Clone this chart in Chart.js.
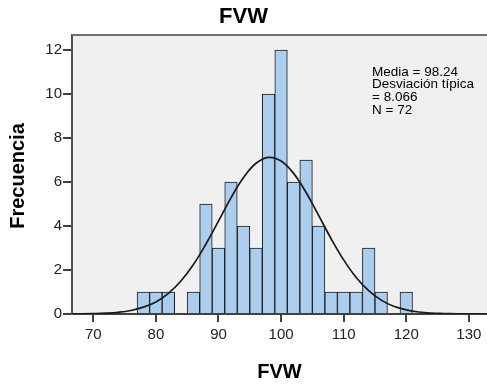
<!DOCTYPE html>
<html>
<head>
<meta charset="utf-8">
<script src="https://cdn.jsdelivr.net/npm/chart.js@4/dist/chart.umd.min.js"></script>
<style>
  html, body { margin: 0; padding: 0; background: #fff; }
  #wrap { position: relative; width: 487px; height: 389px; }
</style>
</head>
<body>
<div id="wrap"><canvas id="chart"></canvas></div>
<script>
// histogram FVW, bins of width 2 (centres)
var binCentres = [78, 80, 82, 84, 86, 88, 90, 92, 94, 96, 98, 100, 102, 104, 106, 108, 110, 112, 114, 116, 118, 120];
var counts     = [1, 1, 1, 0, 1, 5, 3, 6, 4, 3, 10, 12, 6, 7, 4, 1, 1, 1, 3, 1, 0, 1];
// normal curve
var curveX = [66, 68, 70, 72, 74, 76, 78, 80, 82, 84, 86, 88, 90, 92, 94, 96, 98, 100, 102, 104, 106, 108, 110, 112, 114, 116, 118, 120, 122, 124, 126, 128, 130, 132, 134];
var curveY = [0.002, 0.006, 0.016, 0.036, 0.078, 0.16, 0.31, 0.55, 0.94, 1.5, 2.25, 3.18, 4.22, 5.28, 6.2, 6.85, 7.12, 6.95, 6.39, 5.52, 4.48, 3.42, 2.46, 1.66, 1.06, 0.63, 0.35, 0.19, 0.09, 0.04, 0.02, 0.008, 0.003, 0.001, 0];
var xTicks = [70, 80, 90, 100, 110, 120, 130];
var yTicks = [0, 2, 4, 6, 8, 10, 12];
var statsLines = ["Media = 98.24", "Desviación típica", "= 8.066", "N = 72"];

var FONT = "'Liberation Sans', Arial, sans-serif";

var plotBg = {
  id: "plotBg",
  beforeDraw: function (chart) {
    var a = chart.chartArea, ctx = chart.ctx;
    ctx.save();
    ctx.fillStyle = "#f0f0f0";
    ctx.fillRect(a.left, a.top, a.right - a.left, a.bottom - a.top);
    ctx.restore();
  },
  afterDatasetsDraw: function (chart) {
    var a = chart.chartArea, ctx = chart.ctx;
    ctx.save();
    ctx.strokeStyle = "#707070";
    ctx.lineWidth = 2;
    ctx.beginPath();
    ctx.moveTo(a.left, a.top);
    ctx.lineTo(a.right, a.top);
    ctx.stroke();
    ctx.restore();
  },
  afterDraw: function (chart) {
    var ctx = chart.ctx;
    ctx.save();
    ctx.fillStyle = "#000";
    ctx.font = "13.5px " + FONT;
    ctx.textBaseline = "middle";
    var ys = [72, 84.5, 97.5, 110];
    statsLines.forEach(function (t, i) { ctx.fillText(t, 372, ys[i]); });
    // y axis title
    ctx.font = "bold 20px " + FONT;
    ctx.textAlign = "center";
    ctx.translate(18, 176);
    ctx.rotate(-Math.PI / 2);
    ctx.fillText("Frecuencia", 0, 0);
    ctx.restore();
  }
};

new Chart(document.getElementById("chart"), {
  data: {
    datasets: [
      {
        type: "line",
        data: curveX.map(function (x, i) { return { x: x, y: curveY[i] }; }),
        borderColor: "#1a1a1a",
        borderWidth: 1.7,
        pointRadius: 0,
        tension: 0.4,
        order: 0
      },
      {
        type: "bar",
        data: binCentres.map(function (x, i) { return { x: x, y: counts[i] }; }),
        backgroundColor: "#abcdee",
        borderColor: "#1e1e1e",
        borderWidth: 1,
        categoryPercentage: 1,
        barPercentage: 1,
        order: 1
      }
    ]
  },
  options: {
    responsive: true,
    maintainAspectRatio: false,
    animation: false,
    layout: { padding: 0 },
    plugins: {
      legend: { display: false },
      tooltip: { enabled: false },
      title: {
        display: true,
        text: "FVW",
        color: "#000",
        font: { family: FONT, size: 22, weight: "bold" },
        padding: { top: 4, bottom: 4.6 }
      }
    },
    scales: {
      x: {
        type: "linear",
        min: 66.6,
        max: 132.9,
        offset: false,
        afterBuildTicks: function (s) { s.ticks = xTicks.map(function (v) { return { value: v }; }); },
        afterFit: function (s) { s.height = 75; },
        border: { display: true, color: "#404040", width: 2 },
        grid: { offset: false, drawOnChartArea: false, drawTicks: true, tickLength: 8, color: "#404040", lineWidth: 2 },
        ticks: { color: "#222", font: { family: FONT, size: 15 }, padding: 4, maxRotation: 0 },
        title: { display: true, text: "FVW", color: "#000", font: { family: FONT, size: 20, weight: "bold" }, padding: { top: 0, bottom: 5 } }
      },
      y: {
        min: 0,
        max: 12.68,
        afterBuildTicks: function (s) { s.ticks = yTicks.map(function (v) { return { value: v }; }); },
        afterFit: function (s) { s.width = 72; },
        border: { display: true, color: "#505050", width: 2 },
        grid: { drawOnChartArea: false, drawTicks: true, tickLength: 9, color: "#404040", lineWidth: 2 },
        ticks: { color: "#222", font: { family: FONT, size: 15 }, padding: 1 }
      }
    }
  },
  plugins: [plotBg]
});
</script>
</body>
</html>
